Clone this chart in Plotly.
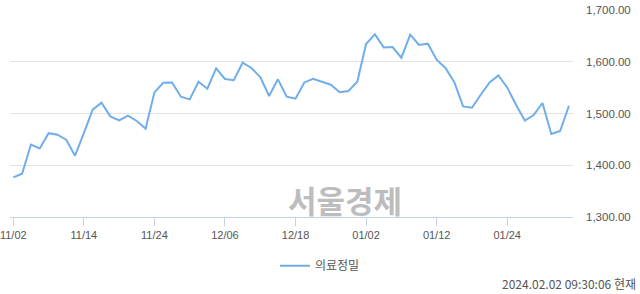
import plotly.graph_objects as go

dates = [
    "11/02", "11/03", "11/06", "11/07", "11/08", "11/09", "11/10", "11/13", "11/14", "11/15",
    "11/16", "11/17", "11/20", "11/21", "11/22", "11/23", "11/24", "11/27", "11/28", "11/29",
    "11/30", "12/01", "12/04", "12/05", "12/06", "12/07", "12/08", "12/11", "12/12", "12/13",
    "12/14", "12/15", "12/18", "12/19", "12/20", "12/21", "12/22", "12/26", "12/27", "12/28",
    "01/02", "01/03", "01/04", "01/05", "01/08", "01/09", "01/10", "01/11", "01/12", "01/15",
    "01/16", "01/17", "01/18", "01/19", "01/22", "01/23", "01/24", "01/25", "01/26", "01/29",
    "01/30", "01/31", "02/01", "02/02",
]

values = [
    1376.5, 1383.7, 1440.0, 1432.6, 1462.0, 1459.0, 1449.4, 1418.5, 1462.0, 1507.3,
    1520.9, 1494.4, 1486.7, 1495.8, 1485.5, 1470.6, 1540.8, 1559.5, 1560.0, 1532.5,
    1527.3, 1561.4, 1547.9, 1587.2, 1566.7, 1564.5, 1598.2, 1588.0, 1570.5, 1533.8,
    1566.0, 1532.5, 1528.6, 1560.0, 1567.2, 1561.0, 1555.7, 1541.2, 1543.5, 1561.4,
    1634.3, 1652.9, 1627.7, 1628.5, 1607.8, 1652.3, 1632.4, 1634.9, 1604.0, 1588.0,
    1560.5, 1513.7, 1511.2, 1536.3, 1560.0, 1573.6, 1550.4, 1517.0, 1486.1, 1497.0,
    1520.3, 1460.4, 1466.2, 1515.0,
]

tick_labels = ["11/02", "11/14", "11/24", "12/06", "12/18", "01/02", "01/12", "01/24"]
y_ticks = [1300, 1400, 1500, 1600, 1700]

series_name = "의료정밀"
watermark = "서울경제"
timestamp = "2024.02.02 09:30:06 현재"

FONT = "Liberation Sans, Noto Sans CJK KR, sans-serif"
KFONT = "Noto Sans CJK KR, Liberation Sans, sans-serif"

fig = go.Figure()
fig.add_trace(go.Scatter(
    x=dates, y=values, mode="lines", name=series_name,
    line=dict(color="#70aeea", width=2),
    showlegend=True,
))

fig.update_layout(
    width=640, height=294,
    margin=dict(l=10, r=67, t=10, b=77, autoexpand=False),
    paper_bgcolor="white", plot_bgcolor="white",
    font=dict(family=FONT, size=11, color="#555555"),
    showlegend=True,
    legend=dict(
        orientation="h", xref="container", yref="container",
        x=0.5, xanchor="center", y=0.096, yanchor="middle",
        font=dict(family=KFONT, size=12, color="#555555"),
        itemwidth=30,
    ),
    xaxis=dict(
        type="category",
        range=[-0.374, 63.46],
        automargin=False,
        tickmode="array", tickvals=tick_labels, ticktext=tick_labels,
        ticks="outside", ticklen=8, tickcolor="#c5d2e3", tickwidth=1,
        showline=True, linecolor="#c5d2e3", linewidth=1,
        showgrid=False, zeroline=False,
        tickfont=dict(family=FONT, size=11, color="#555555"),
        fixedrange=True,
    ),
    yaxis=dict(
        side="right",
        range=[1300, 1700],
        automargin=False,
        tickmode="array", tickvals=y_ticks,
        tickformat=",.2f",
        showgrid=True, gridcolor="#e3e3e3", gridwidth=1,
        zeroline=False, showline=False, ticks="",
        ticklabelstandoff=12,
        tickfont=dict(family=FONT, size=11.5, color="#555555"),
        fixedrange=True,
    ),
    annotations=[
        dict(text=watermark, xref="paper", yref="paper", x=0.595, y=0.083,
             xanchor="center", yanchor="middle", showarrow=False,
             font=dict(family=KFONT, size=31, color="#bdbdbd", weight="bold")),
        dict(text=timestamp, xref="paper", yref="paper", x=1.1155, y=-0.322,
             xanchor="right", yanchor="middle", showarrow=False,
             font=dict(family=KFONT, size=12, color="#555555")),
    ],
)

fig.write_html("out.html")
